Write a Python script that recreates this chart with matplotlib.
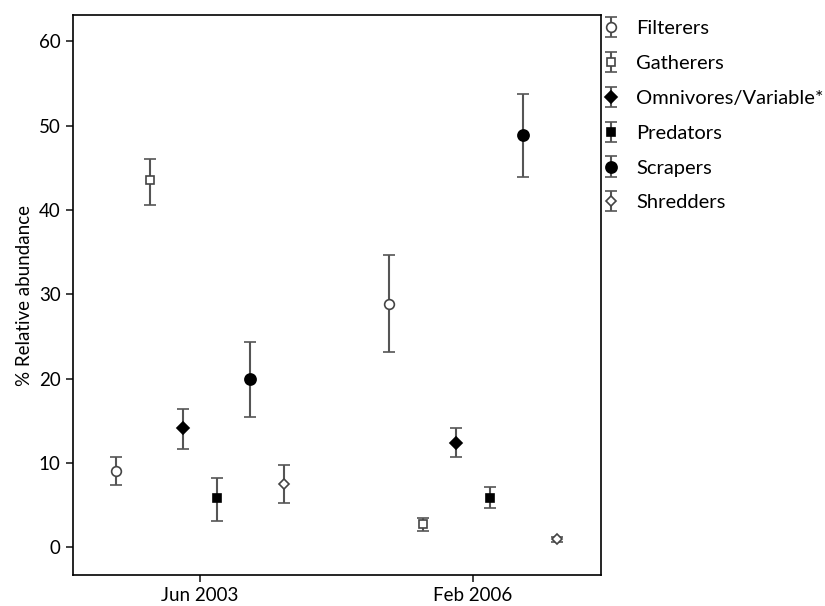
import numpy as np
import matplotlib.pyplot as plt

plt.rcParams['font.family'] = ['Lato', 'DejaVu Sans']

dates = ["Jun 2003", "Feb 2006"]
groups = ["Filterers", "Gatherers", "Omnivores/Variable*", "Predators", "Scrapers", "Shredders"]

# mean, lower bound, upper bound for each group at each date
means = {
    "Filterers": [9.05, 28.8],
    "Gatherers": [43.6, 2.7],
    "Omnivores/Variable*": [14.1, 12.4],
    "Predators": [5.8, 5.9],
    "Scrapers": [20.0, 48.9],
    "Shredders": [7.5, 0.95],
}
lows = {
    "Filterers": [7.4, 23.1],
    "Gatherers": [40.6, 1.95],
    "Omnivores/Variable*": [11.7, 10.7],
    "Predators": [3.1, 4.6],
    "Scrapers": [15.5, 43.9],
    "Shredders": [5.2, 0.65],
}
highs = {
    "Filterers": [10.7, 34.6],
    "Gatherers": [46.1, 3.5],
    "Omnivores/Variable*": [16.4, 14.1],
    "Predators": [8.25, 7.1],
    "Scrapers": [24.4, 53.8],
    "Shredders": [9.8, 1.25],
}

styles = {
    "Filterers": ("o", "white", 7),
    "Gatherers": ("s", "white", 5.5),
    "Omnivores/Variable*": ("D", "black", 6),
    "Predators": ("s", "black", 6),
    "Scrapers": ("o", "black", 8),
    "Shredders": ("D", "white", 5.5),
}

fig = plt.figure(figsize=(8.25, 6.06), dpi=100)
ax = fig.add_axes([0.0879, 0.051, 0.6406, 0.924])

x = np.arange(len(dates))
step = 0.123
for i, g in enumerate(groups):
    xs = x + (i - 2.5) * step
    m = np.array(means[g])
    err = [m - np.array(lows[g]), np.array(highs[g]) - m]
    marker, face, ms = styles[g]
    edge = "#444444" if face == "white" else "black"
    ax.errorbar(xs, m, yerr=err, fmt=marker, mfc=face, mec=edge, ms=ms, mew=1.2,
                ecolor="#555555", elinewidth=1.5, capsize=4, capthick=1.3, label=g)

ax.set_xlim(-0.467, 1.469)
ax.set_ylim(-3.3, 63.1)
ax.set_xticks(x)
ax.set_xticklabels(dates)
ax.set_yticks([0, 10, 20, 30, 40, 50, 60])
ax.tick_params(labelsize=13.5, length=5, width=1.3, color="#333333")
ax.set_ylabel("% Relative abundance", fontsize=13.5)
for s in ax.spines.values():
    s.set_linewidth(1.2)

leg = ax.legend(loc="upper left", bbox_to_anchor=(1.0, 1.0), frameon=False,
                fontsize=14.5, labelspacing=0.88, handlelength=0.5, handletextpad=1.0,
                borderaxespad=0.0, borderpad=0.25)

plt.savefig("out.png", dpi=100)
